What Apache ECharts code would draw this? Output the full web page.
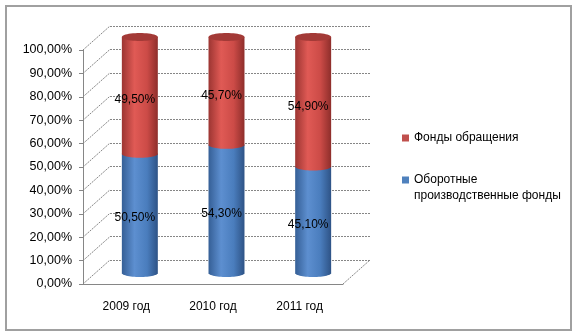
<!DOCTYPE html>
<html>
<head>
<meta charset="utf-8">
<script src="https://cdn.jsdelivr.net/npm/echarts@6/dist/echarts.min.js"></script>
<style>
html,body{margin:0;padding:0;background:#fff;}
#main{width:576px;height:336px;}
</style>
</head>
<body>
<div id="main"></div>
<script>
// ---- data ----
const categories = ['2009 год', '2010 год', '2011 год'];
const blueName = 'Оборотные производственные фонды';
const redName = 'Фонды обращения';
const blueValues = [50.5, 54.3, 45.1];
const redValues = [49.5, 45.7, 54.9];
const yMin = 0, yMax = 100, yStep = 10;

// ---- layout ----
const FRONT = {left: 83, right: 233, top: 50, bottom: 52};
const DX = 27, DY = 24;
const FONT = 'Liberation Sans, Arial, sans-serif';

function fmtPct(v) { return v.toFixed(2).replace('.', ',') + '%'; }

const blueGrad = new echarts.graphic.LinearGradient(0, 0, 1, 0, [
  {offset: 0, color: '#355f96'},
  {offset: 0.35, color: '#5d8fd0'},
  {offset: 0.7, color: '#4a7dbd'},
  {offset: 1, color: '#2e5386'}
]);
const redGrad = new echarts.graphic.LinearGradient(0, 0, 1, 0, [
  {offset: 0, color: '#9c3532'},
  {offset: 0.35, color: '#e05a55'},
  {offset: 0.7, color: '#cc4b47'},
  {offset: 1, color: '#8e2e2b'}
]);

function ellipsePts(cx, cy, rx, ry, a0, a1, n) {
  const pts = [];
  for (let k = 0; k <= n; k++) {
    const t = a0 + (a1 - a0) * k / n;
    pts.push([cx + rx * Math.cos(t), cy + ry * Math.sin(t)]);
  }
  return pts;
}

function makeRender(fill, topFill) {
  return function (params, api) {
    const i = api.value(0), lo = api.value(1), hi = api.value(2), v = api.value(3);
    const pLo = api.coord([i, lo]);
    const pHi = api.coord([i, hi]);
    const bw = api.size([1, 0])[0] * 0.415;
    const rx = bw / 2, ry = 4;
    const cx = pLo[0];
    const children = [
      {type: 'rect', shape: {x: cx - rx, y: pHi[1], width: bw, height: pLo[1] - pHi[1] + 0.5}, style: {fill: fill}},
      {type: 'polygon', shape: {points: ellipsePts(cx, pLo[1], rx, ry, 0, Math.PI, 30)}, style: {fill: fill}}
    ];
    if (topFill) {
      children.push({type: 'polygon', shape: {points: ellipsePts(cx, pHi[1], rx, ry, 0, Math.PI * 2, 48)}, style: {fill: topFill}});
    }
    children.push({
      type: 'text',
      style: {
        x: cx - 5, y: (pLo[1] + pHi[1]) / 2 + 4.5,
        text: fmtPct(v), fill: '#000', font: '12px ' + FONT,
        align: 'center', verticalAlign: 'middle'
      },
      z2: 10
    });
    return {type: 'group', children: children};
  };
}

const blueData = categories.map((c, i) => [i, 0, blueValues[i], blueValues[i]]);
const redData = categories.map((c, i) => [i, blueValues[i], blueValues[i] + redValues[i], redValues[i]]);

const chart = echarts.init(document.getElementById('main'), null, {renderer: 'canvas'});
const gray = '#868686';

chart.setOption({
  animation: false,
  backgroundColor: '#fff',
  textStyle: {fontFamily: FONT},
  legend: {
    orient: 'vertical',
    left: 397, top: 125,
    itemWidth: 7, itemHeight: 7, itemGap: 10,
    icon: 'rect',
    data: [redName, blueName],
    formatter: n => n === blueName ? '\nОборотные\nпроизводственные фонды' : n,
    textStyle: {fontSize: 12, lineHeight: 16, color: '#000', fontFamily: FONT}
  },
  grid: [
    {left: FRONT.left, right: FRONT.right, top: FRONT.top, bottom: FRONT.bottom},
    {left: FRONT.left + DX, right: FRONT.right - DX, top: FRONT.top - DY, bottom: FRONT.bottom + DY},
    {left: FRONT.left + DX / 2, right: FRONT.right - DX / 2, top: 37, bottom: 63}
  ],
  xAxis: [
    {gridIndex: 0, type: 'category', data: categories,
      axisLine: {lineStyle: {color: gray}},
      axisTick: {length: 4, lineStyle: {color: gray}},
      axisLabel: {margin: 17, fontSize: 12, color: '#000', fontFamily: FONT}},
    {gridIndex: 1, type: 'category', data: categories, show: false},
    {gridIndex: 2, type: 'category', data: categories, show: false}
  ],
  yAxis: [
    {gridIndex: 0, type: 'value', min: yMin, max: yMax, interval: yStep,
      axisLine: {show: true, lineStyle: {color: gray}},
      axisTick: {show: true, length: 4, lineStyle: {color: gray}},
      splitLine: {show: false},
      axisLabel: {margin: 11, fontSize: 12.5, color: '#000', fontFamily: FONT, formatter: v => fmtPct(v)}},
    {gridIndex: 1, type: 'value', min: yMin, max: yMax, interval: yStep,
      axisLine: {show: false}, axisTick: {show: false}, axisLabel: {show: false},
      splitLine: {show: true, lineStyle: {color: gray, type: [2, 1], width: 1}}},
    {gridIndex: 2, type: 'value', min: yMin, max: yMax, interval: yStep, show: false,
      splitLine: {show: false}}
  ],
  series: [
    {name: blueName, type: 'custom', xAxisIndex: 2, yAxisIndex: 2,
      itemStyle: {color: '#4f81bd'}, renderItem: makeRender(blueGrad, null), data: blueData, z: 5},
    {name: redName, type: 'custom', xAxisIndex: 2, yAxisIndex: 2,
      itemStyle: {color: '#c0504d'}, renderItem: makeRender(redGrad, '#a33a37'), data: redData, z: 6}
  ]
});

// side wall & floor diagonals derived from the two value axes
const graphics = [];
const xL = FRONT.left, xR = 576 - FRONT.right;
for (let v = yMin; v <= yMax; v += yStep) {
  const ya = chart.convertToPixel({yAxisIndex: 0}, v);
  const yb = chart.convertToPixel({yAxisIndex: 1}, v);
  graphics.push({type: 'line', z: 1, shape: {x1: xL, y1: ya, x2: xL + DX, y2: yb},
    style: {stroke: gray, lineWidth: 1, lineDash: [2, 1]}});
}
{
  const ya = chart.convertToPixel({yAxisIndex: 0}, yMin);
  const yb = chart.convertToPixel({yAxisIndex: 1}, yMin);
  graphics.push({type: 'line', z: 1, shape: {x1: xR, y1: ya, x2: xR + DX, y2: yb},
    style: {stroke: gray, lineWidth: 1, lineDash: [2, 1]}});
}
graphics.push({type: 'rect', z: 0, shape: {x: 6, y: 6, width: 565, height: 324},
  style: {fill: null, stroke: '#a0a0a0', lineWidth: 2}});
chart.setOption({graphic: graphics});
</script>
</body>
</html>
